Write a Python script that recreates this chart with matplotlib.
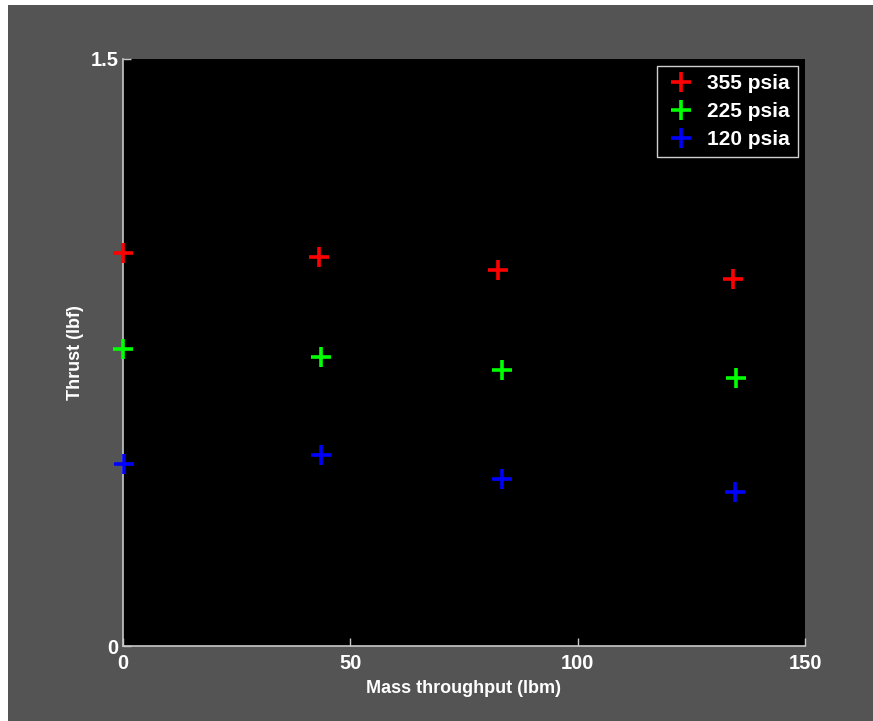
import matplotlib.pyplot as plt
from matplotlib.patches import Rectangle

# mass throughput (lbm) and thrust (lbf) for each chamber pressure
mass_355 = [0.0, 43.1, 82.5, 134.2]
thrust_355 = [1.004, 0.994, 0.961, 0.938]
mass_225 = [0.0, 43.5, 83.4, 134.8]
thrust_225 = [0.759, 0.739, 0.705, 0.685]
mass_120 = [0.2, 43.5, 83.4, 134.6]
thrust_120 = [0.465, 0.488, 0.427, 0.394]

series = [
    ("355 psia", mass_355, thrust_355, "#ff0000"),
    ("225 psia", mass_225, thrust_225, "#00ff00"),
    ("120 psia", mass_120, thrust_120, "#0000ff"),
]

plt.rcParams["font.family"] = ["Liberation Sans", "DejaVu Sans"]
plt.rcParams["font.weight"] = "bold"

W, H = 873, 721
fig = plt.figure(figsize=(W / 100, H / 100), dpi=100, facecolor="#545454")
# thin white strip along the top and left edge
fig.add_artist(Rectangle((0, 1 - 5 / H), 1, 5 / H, transform=fig.transFigure,
                         facecolor="white", edgecolor="none"))
fig.add_artist(Rectangle((0, 0), 8 / W, 1, transform=fig.transFigure,
                         facecolor="white", edgecolor="none"))

ax = fig.add_axes([123 / W, 1 - 646 / H, (805 - 123) / W, (646 - 59) / H])
ax.set_facecolor("black")

for name, x, y, c in series:
    ax.plot(x, y, linestyle="none", marker="+", markersize=14, mew=2.6,
            color=c, label=name, clip_on=False, zorder=3)

ax.set_xlim(0, 150)
ax.set_ylim(0, 1.5)
ax.set_xticks([0, 50, 100, 150])
ax.set_yticks([0, 1.5])
ax.set_yticklabels(["0", "1.5"])

for s in ["top", "right"]:
    ax.spines[s].set_visible(False)
for s in ["left", "bottom"]:
    ax.spines[s].set_color("#c8c8c8")
    ax.spines[s].set_linewidth(1.2)

ax.tick_params(direction="in", colors="#c8c8c8", labelcolor="white",
               labelsize=14.5, length=6, width=1.0)
ax.tick_params(axis="x", pad=6)
ax.tick_params(axis="y", pad=3)

ax.set_xlabel("Mass throughput (lbm)", color="white", fontsize=13,
              fontweight="bold", labelpad=5)
ax.set_ylabel("Thrust (lbf)", color="white", fontsize=13,
              fontweight="bold", labelpad=5)

leg = ax.legend(loc="upper right", bbox_to_anchor=(0.99, 0.988),
                facecolor="black", edgecolor="#d0d0d0", framealpha=1,
                fancybox=False, fontsize=15, handlelength=1.45,
                handletextpad=0.55, borderpad=0.4, labelspacing=0.42,
                borderaxespad=0)
leg.get_frame().set_linewidth(1.0)
for t in leg.get_texts():
    t.set_color("white")
    t.set_fontweight("bold")

fig.savefig("out.png", dpi=100, facecolor=fig.get_facecolor())
